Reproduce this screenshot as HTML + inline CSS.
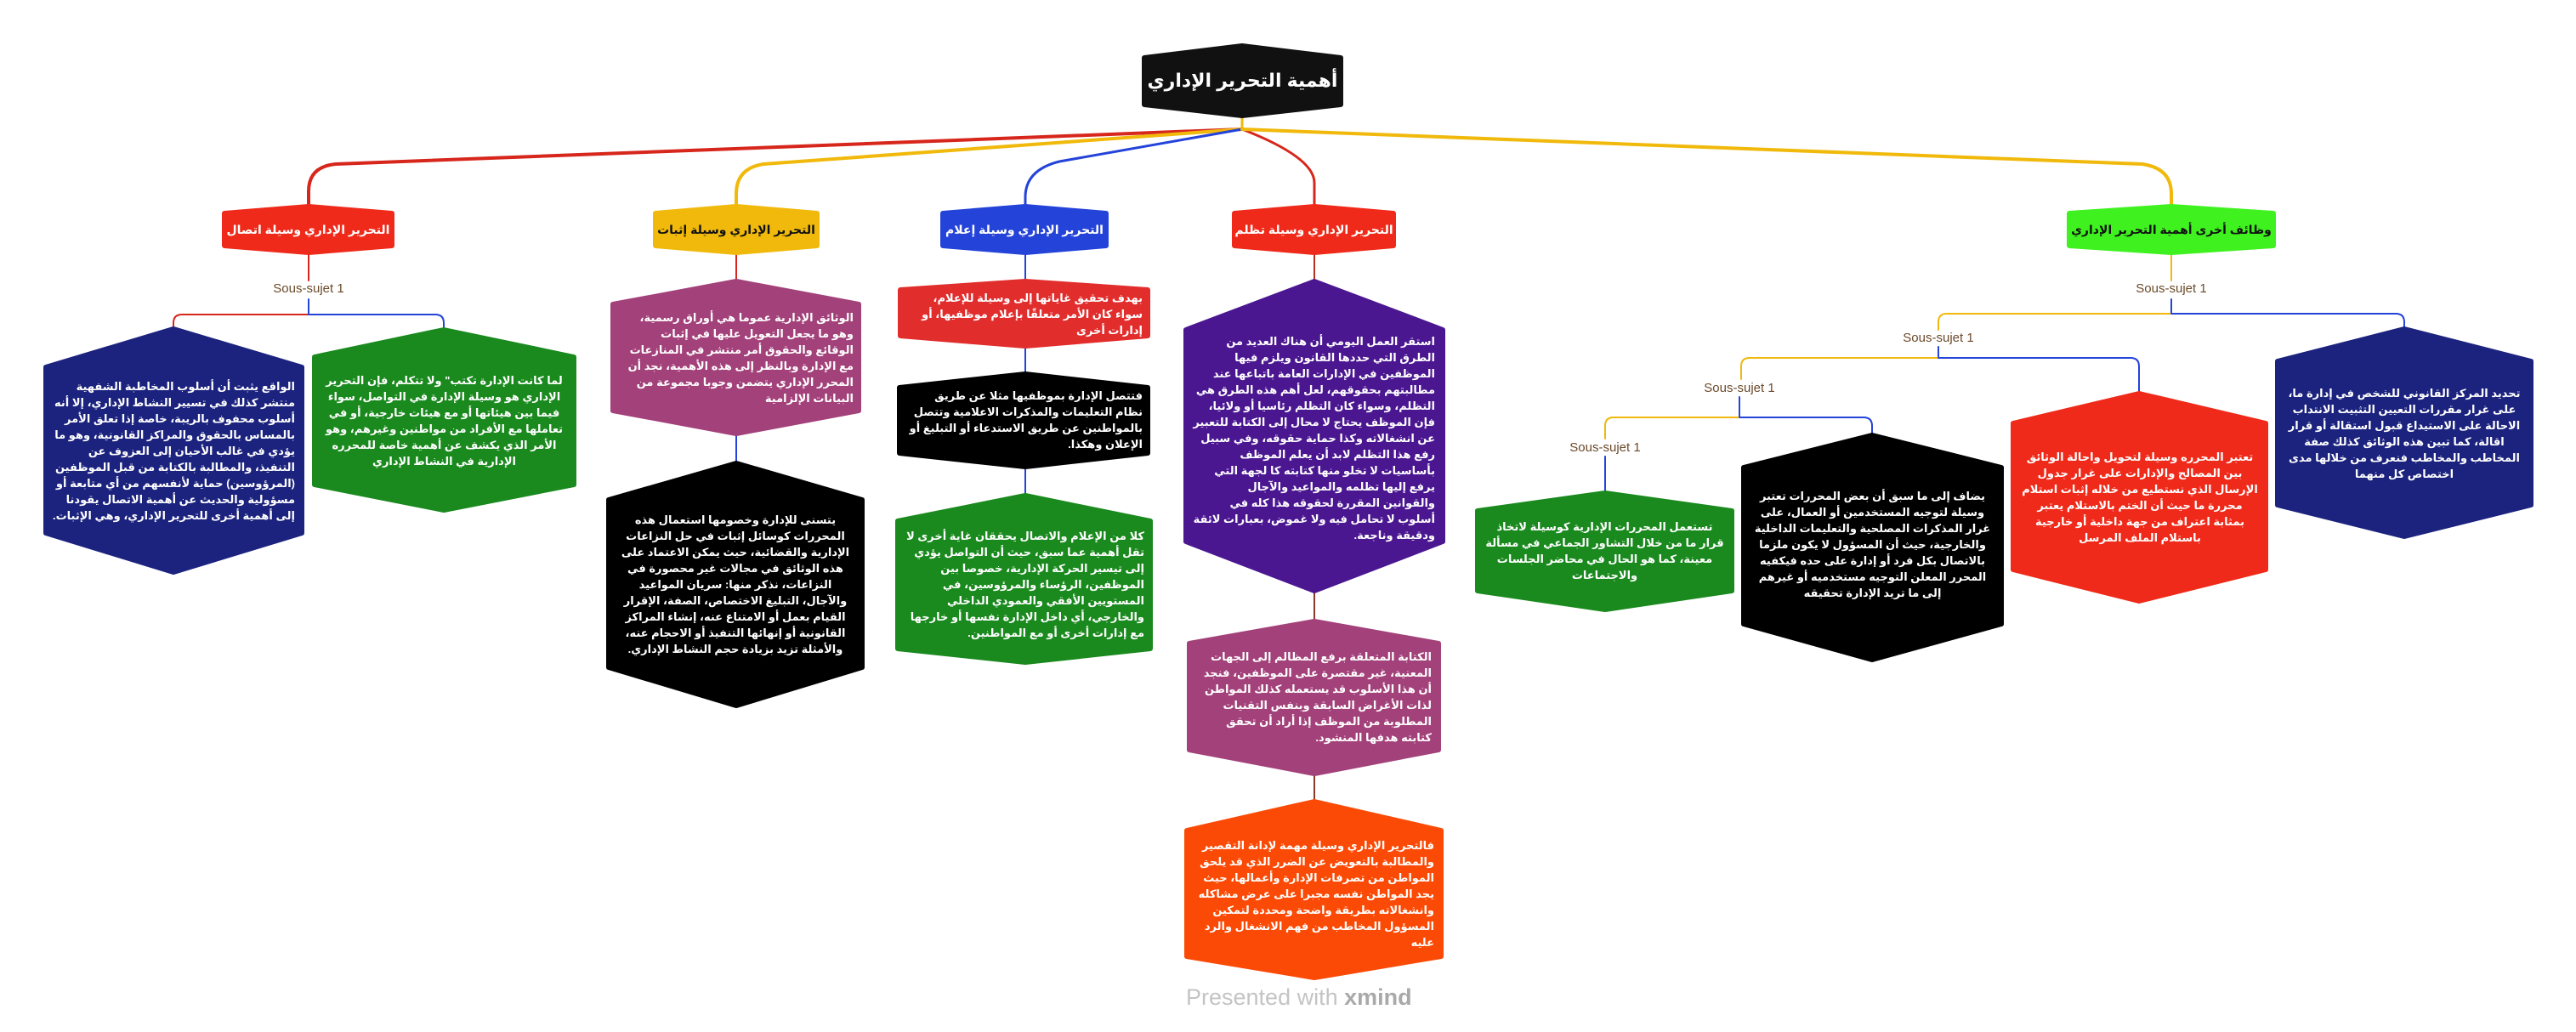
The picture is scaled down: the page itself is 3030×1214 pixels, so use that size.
<!DOCTYPE html>
<html><head><meta charset="utf-8">
<style>
html,body{margin:0;padding:0;background:#fff;}
#wrap{position:relative;width:3030px;height:1214px;overflow:hidden;background:#fff;}
svg{position:absolute;left:0;top:0;}
.t{position:absolute;display:flex;align-items:center;justify-content:center;direction:rtl;
font-family:"Liberation Sans","DejaVu Sans",sans-serif;color:#fff;font-size:13px;line-height:19px;font-weight:bold;}
.t div{width:100%;}
.r div{text-align:right;}
.c div{text-align:center;}
.l1{font-size:14px;font-weight:bold;white-space:nowrap;}
.ss{position:absolute;font-family:"Liberation Sans","DejaVu Sans",sans-serif;font-size:15px;color:#6b4a2a;transform:translateX(-50%);white-space:nowrap;}
</style></head><body><div id="wrap">
<svg width="3030" height="1214" viewBox="0 0 3030 1214">
<g fill="none" stroke-width="3" stroke-linecap="round">
<path d="M1461,139 L1461,152" stroke="#f0b90b"/>
<path d="M1461,152 L395,193 Q363,196 363,225 L363,240" stroke="#d7261b" stroke-width="4"/>
<path d="M1461,152 L898,193 Q866,198 866,228 L866,240" stroke="#f0b90b" stroke-width="4"/>
<path d="M1461,152 L1246,190 Q1206,200 1206,232 L1206,240" stroke="#2443d9" stroke-width="3"/>
<path d="M1461,152 Q1546,185 1546,215 L1546,240" stroke="#d7261b" stroke-width="3"/>
<path d="M1461,152 L2520,193 Q2554,198 2554,228 L2554,240" stroke="#f0b90b" stroke-width="4"/>
<path d="M363,300 L363,330" stroke="#d7261b" stroke-width="2"/>
<path d="M363,352 L363,370" stroke="#2443d9" stroke-width="2"/>
<path d="M363,370 L214,370 Q204,370 204,380 L204,386" stroke="#d7261b" stroke-width="2"/>
<path d="M363,370 L512,370 Q522,370 522,380 L522,386" stroke="#2443d9" stroke-width="2"/>
<path d="M866,294 L866,330" stroke="#d7261b" stroke-width="2"/>
<path d="M866,513 L866,542" stroke="#2443d9" stroke-width="2"/>
<path d="M1206,294 L1206,330" stroke="#2443d9" stroke-width="2"/>
<path d="M1206,410 L1206,437" stroke="#2443d9" stroke-width="2"/>
<path d="M1206,552 L1206,580" stroke="#2443d9" stroke-width="2"/>
<path d="M1546,294 L1546,330" stroke="#b5321e" stroke-width="2"/>
<path d="M1546,698 L1546,728" stroke="#8a3a2a" stroke-width="2"/>
<path d="M1546,913 L1546,940" stroke="#8a3a2a" stroke-width="2"/>
<path d="M2554,294 L2554,330" stroke="#f0b90b" stroke-width="2"/>
<path d="M2554,352 L2554,369" stroke="#2443d9" stroke-width="2"/>
<path d="M2554,369 L2290,369 Q2280,369 2280,379 L2280,388" stroke="#f0b90b" stroke-width="2"/>
<path d="M2554,369 L2818,369 Q2828,369 2828,379 L2828,386" stroke="#2443d9" stroke-width="2"/>
<path d="M2280,408 L2280,421" stroke="#2443d9" stroke-width="2"/>
<path d="M2280,421 L2058,421 Q2048,421 2048,431 L2048,446" stroke="#f0b90b" stroke-width="2"/>
<path d="M2280,421 L2506,421 Q2516,421 2516,431 L2516,462" stroke="#2443d9" stroke-width="2"/>
<path d="M2046,467 L2046,491" stroke="#2443d9" stroke-width="2"/>
<path d="M2046,491 L1898,491 Q1888,491 1888,501 L1888,516" stroke="#f0b90b" stroke-width="2"/>
<path d="M2046,491 L2192,491 Q2202,491 2202,501 L2202,511" stroke="#2443d9" stroke-width="2"/>
<path d="M1888,537 L1888,577" stroke="#2443d9" stroke-width="2"/>
</g>
<g stroke-linejoin="round" stroke-width="6">
<polygon points="1461,54 1577,68 1577,123 1461,136 1346,123 1346,68" fill="#111" stroke="#111"/>
<polygon points="363,243 461,251 461,289 363,297 264,289 264,251" fill="#ef2a1a" stroke="#ef2a1a"/>
<polygon points="866,243 961,251 961,289 866,297 771,289 771,251" fill="#f0b90b" stroke="#f0b90b"/>
<polygon points="1206,243 1301,251 1301,289 1206,297 1109,289 1109,251" fill="#2443d9" stroke="#2443d9"/>
<polygon points="1546,243 1639,251 1639,289 1546,297 1452,289 1452,251" fill="#ef2a1a" stroke="#ef2a1a"/>
<polygon points="2554,243 2674,251 2674,289 2554,297 2434,289 2434,251" fill="#3ff21f" stroke="#3ff21f"/>
<polygon points="204,387 355,432 355,627 204,673 54,627 54,432" fill="#1c237e" stroke="#1c237e"/>
<polygon points="522,388 675,420 675,570 522,600 370,570 370,420" fill="#1a8a1e" stroke="#1a8a1e"/>
<polygon points="866,331 1010,358 1010,483 866,510 721,483 721,358" fill="#a3417a" stroke="#a3417a"/>
<polygon points="866,545 1014,588 1014,785 866,830 716,785 716,588" fill="#000" stroke="#000"/>
<polygon points="1206,331 1350,341 1350,395 1206,407 1059,395 1059,341" fill="#e22d2d" stroke="#e22d2d"/>
<polygon points="1206,440 1350,456 1350,533 1206,549 1058,533 1058,456" fill="#000" stroke="#000"/>
<polygon points="1206,583 1353,613 1353,763 1206,779 1056,763 1056,613" fill="#1a8a1e" stroke="#1a8a1e"/>
<polygon points="1546,331 1697,388 1697,637 1546,695 1395,637 1395,388" fill="#4b1791" stroke="#4b1791"/>
<polygon points="1546,731 1692,757 1692,882 1546,910 1399,882 1399,757" fill="#a3417a" stroke="#a3417a"/>
<polygon points="1546,943 1695,977 1695,1125 1546,1150 1396,1125 1396,977" fill="#fb4a05" stroke="#fb4a05"/>
<polygon points="2828,387 2977,425 2977,594 2828,631 2679,594 2679,425" fill="#1c237e" stroke="#1c237e"/>
<polygon points="2516,463 2665,498 2665,670 2516,707 2368,670 2368,498" fill="#ef2a1a" stroke="#ef2a1a"/>
<polygon points="2202,512 2354,550 2354,734 2202,776 2051,734 2051,550" fill="#000" stroke="#000"/>
<polygon points="1888,580 2037,601 2037,695 1888,717 1738,695 1738,601" fill="#1a8a1e" stroke="#1a8a1e"/>
</g>
</svg>

<div class="t c" style="left:1346px;top:66px;width:231px;height:58px;font-size:22px;line-height:26px;"><div>أهمية التحرير الإداري</div></div>

<div class="t c l1" style="left:264px;top:250px;width:197px;height:40px;"><div>التحرير الإداري وسيلة اتصال</div></div>
<div class="t c l1" style="left:771px;top:250px;width:190px;height:40px;color:#111;"><div>التحرير الإداري وسيلة إثبات</div></div>
<div class="t c l1" style="left:1109px;top:250px;width:192px;height:40px;"><div>التحرير الإداري وسيلة إعلام</div></div>
<div class="t c l1" style="left:1452px;top:250px;width:187px;height:40px;"><div>التحرير الإداري وسيلة تظلم</div></div>
<div class="t c l1" style="left:2434px;top:250px;width:240px;height:40px;color:#111;"><div>وظائف أخرى أهمية التحرير الإداري</div></div>

<div class="ss" style="left:363px;top:331px;">Sous-sujet 1</div>
<div class="ss" style="left:2554px;top:331px;">Sous-sujet 1</div>
<div class="ss" style="left:2280px;top:389px;">Sous-sujet 1</div>
<div class="ss" style="left:2046px;top:448px;">Sous-sujet 1</div>
<div class="ss" style="left:1888px;top:518px;">Sous-sujet 1</div>

<div class="t r" style="left:62px;top:420px;width:285px;height:220px;"><div>الواقع يثبت أن أسلوب المخاطبة الشفهية منتشر كذلك في تسيير النشاط الإداري، إلا أنه أسلوب محفوف بالريبة، خاصة إذا تعلق الأمر بالمساس بالحقوق والمراكز القانونية، وهو ما يؤدي في غالب الأحيان إلى العزوف عن التنفيذ، والمطالبة بالكتابة من قبل الموظفين (المرؤوسين) حماية لأنفسهم من أي متابعة أو مسؤولية والحديث عن أهمية الاتصال يقودنا إلى أهمية أخرى للتحرير الإداري، وهي الإثبات.</div></div>

<div class="t c" style="left:378px;top:410px;width:289px;height:170px;"><div>لما كانت الإدارة تكتب" ولا تتكلم، فإن التحرير الإداري هو وسيلة الإدارة في التواصل، سواء فيما بين هيئاتها أو مع هيئات خارجية، أو في تعاملها مع الأفراد من مواطنين وغيرهم، وهو الأمر الذي يكشف عن أهمية خاصة للمحرره الإدارية في النشاط الإداري</div></div>

<div class="t r" style="left:729px;top:350px;width:275px;height:142px;"><div>الوثائق الإدارية عموما هي أوراق رسمية، وهو ما يجعل التعويل عليها في إثبات الوقائع والحقوق أمر منتشر في المنازعات مع الإدارة وبالنظر إلى هذه الأهمية، نجد أن المحرر الإداري يتضمن وجوبا مجموعة من البيانات الإلزامية</div></div>

<div class="t c" style="left:724px;top:580px;width:282px;height:215px;"><div>يتسنى للإدارة وخصومها استعمال هذه المحررات كوسائل إثبات في حل النزاعات الإدارية والقضائية، حيث يمكن الاعتماد على هذه الوثائق في مجالات غير محصورة في النزاعات، نذكر منها: سريان المواعيد والآجال، التبليغ الاختصاص، الصفة، الإقرار القيام بعمل أو الامتناع عنه، إنشاء المراكز القانونية أو إنهائها التنفيذ أو الاحجام عنه، والأمثلة تزيد بزيادة حجم النشاط الإداري.</div></div>

<div class="t r" style="left:1066px;top:336px;width:278px;height:66px;"><div>بهدف تحقيق غاياتها إلى وسيلة للإعلام، سواء كان الأمر متعلقًا بإعلام موظفيها، أو إدارات أخرى</div></div>

<div class="t r" style="left:1066px;top:450px;width:278px;height:88px;"><div>فتتصل الإدارة بموظفيها مثلا عن طريق نظام التعليمات والمذكرات الاعلامية وتتصل بالمواطنين عن طريق الاستدعاء أو التبليغ أو الإعلان وهكذا.</div></div>

<div class="t r" style="left:1064px;top:600px;width:282px;height:175px;"><div>كلا من الإعلام والاتصال يحققان غاية أخرى لا تقل أهمية عما سبق، حيث أن التواصل يؤدي إلى تيسير الحركة الإدارية، خصوصا بين الموظفين، الرؤساء والمرؤوسين، في المستويين الأفقي والعمودي الداخلي والخارجي، أي داخل الإدارة نفسها أو خارجها مع إدارات أخرى أو مع المواطنين.</div></div>

<div class="t r" style="left:1403px;top:370px;width:285px;height:290px;"><div>استقر العمل اليومي أن هناك العديد من الطرق التي حددها القانون ويلزم فيها الموظفين في الإدارات العامة باتباعها عند مطالبتهم بحقوقهم، لعل أهم هذه الطرق هي التظلم، وسواء كان التظلم رئاسيا أو ولائيا، فإن الموظف يحتاج لا محال إلى الكتابة للتعبير عن انشغالاته وكذا حماية حقوقه، وفي سبيل رفع هذا التظلم لابد أن يعلم الموظف بأساسيات لا تخلو منها كتابته كا لجهة التي يرفع إليها تظلمه والمواعيد والآجال والقوانين المقررة لحقوقه هذا كله في أسلوب لا تحامل فيه ولا غموض، بعبارات لائقة ودقيقة وناجعة.</div></div>

<div class="t r" style="left:1407px;top:750px;width:277px;height:140px;"><div>الكتابة المتعلقة برفع المظالم إلى الجهات المعنية، غير مقتصرة على الموظفين، فنجد أن هذا الأسلوب قد يستعمله كذلك المواطن لذات الأغراض السابقة وبنفس التقنيات المطلوبة من الموظف إذا أراد أن تحقق كتابته هدفها المنشود.</div></div>

<div class="t r" style="left:1404px;top:970px;width:283px;height:162px;"><div>فالتحرير الإداري وسيلة مهمة لإدانة التقصير والمطالبة بالتعويض عن الضرر الذي قد يلحق المواطن من تصرفات الإدارة وأعمالها، حيث يجد المواطن نفسه مجبرا على عرض مشاكله وانشغالاته بطريقة واضحة ومحددة لتمكين المسؤول المخاطب من فهم الانشغال والرد عليه</div></div>

<div class="t c" style="left:2688px;top:415px;width:280px;height:190px;"><div>تحديد المركز القانوني للشخص في إدارة ما، على غرار مقررات التعيين التثبيت الانتداب الاحالة على الاستيداع قبول استقالة أو قرار اقالة، كما تبين هذه الوثائق كذلك صفة المخاطب والمخاطب فنعرف من خلالها مدى اختصاص كل منهما</div></div>

<div class="t c" style="left:2377px;top:495px;width:280px;height:180px;"><div>تعتبر المحرره وسيلة لتحويل واحالة الوثائق بين المصالح والإدارات على غرار جدول الإرسال الذي نستطيع من خلاله إثبات استلام محررة ما حيث أن الختم بالاستلام يعتبر بمثابة اعتراف من جهة داخلية أو خارجية باستلام الملف المرسل</div></div>

<div class="t c" style="left:2060px;top:540px;width:285px;height:200px;"><div>يضاف إلى ما سبق أن بعض المحررات تعتبر وسيلة لتوجيه المستخدمين أو العمال، على غرار المذكرات المصلحية والتعليمات الداخلية والخارجية، حيث أن المسؤول لا يكون ملزما بالاتصال بكل فرد أو إدارة على حده فيكفيه المحرر المعلن التوجيه مستخدميه أو غيرهم إلى ما تريد الإدارة تحقيقه</div></div>

<div class="t c" style="left:1746px;top:596px;width:283px;height:104px;"><div>تستعمل المحررات الإدارية كوسيلة لاتخاذ قرار ما من خلال التشاور الجماعي في مسألة معينة، كما هو الحال في محاضر الجلسات والاجتماعات</div></div>

<div style="position:absolute;left:1395px;top:1158px;font-family:'Liberation Sans','DejaVu Sans',sans-serif;font-size:27px;color:#c4c4c4;white-space:nowrap;">Presented with <b style="color:#a9a9a9;">xmind</b></div>
</div></body></html>
